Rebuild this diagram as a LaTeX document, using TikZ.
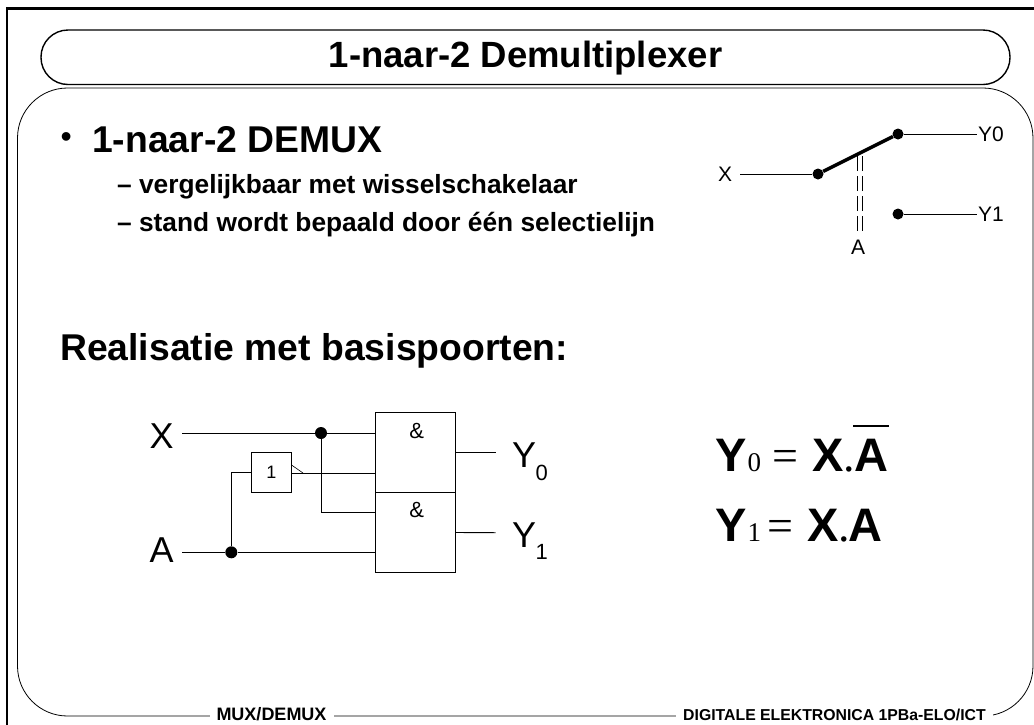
\documentclass[tikz,border=0pt]{standalone}
\usepackage{fontspec}
\setmainfont{Liberation Sans}
\newfontfamily\serifnum{Liberation Serif}
\tikzset{
  x=1pt, y=-1pt,
  wire/.style={line width=0.9pt},
  gatebox/.style={draw, line width=0.9pt, minimum width=80pt, minimum height=80pt, inner sep=0pt},
  invbox/.style={draw, line width=0.9pt, minimum width=40pt, minimum height=40pt, inner sep=0pt},
  junction/.style={circle, fill=black, inner sep=0pt, minimum size=12pt},
  pinlabel/.style={font=\fontsize{36}{36}\selectfont, inner sep=0pt},
  sublabel/.style={font=\fontsize{22}{22}\selectfont, anchor=base west, inner sep=0pt},
  swlabel/.style={font=\fontsize{21}{21}\selectfont, inner sep=1pt},
  eqbold/.style={font=\bfseries\fontsize{47}{47}\selectfont, anchor=base west, inner sep=0pt},
  eqnum/.style={font=\serifnum\fontsize{27}{27}\selectfont, anchor=base west, inner sep=0pt},
  eqsign/.style={font=\serifnum\fontsize{46}{46}\selectfont, anchor=base west, inner sep=0pt},
  textline/.style={anchor=base west, inner sep=0pt, font=\bfseries\fontsize{26.3}{26.3}\selectfont},
  headline/.style={anchor=base west, inner sep=0pt, font=\bfseries\fontsize{37.3}{37.3}\selectfont},
  footlabel/.style={font=\bfseries, fill=white, inner xsep=7pt, inner ysep=0pt}
}
\begin{document}
\begin{tikzpicture}
    \useasboundingbox (0,0) rectangle (1034,724);
    \clip (0,0) rectangle (1034,724);
    % frames
    \draw[line width=2.2pt] (7,730) -- (7,8.5) -- (1045,8.5) -- (1045,730);
    \draw[line width=1.4pt, rounded corners=27pt] (41,30) rectangle (1010,84.5);
    \draw[line width=0.8pt, rounded corners=50pt] (17.5,88) rectangle (1033,716);
    % title and text
    \node[font=\bfseries\fontsize{36.5}{36.5}\selectfont] (title) at (525.5,58) {1-naar-2 Demultiplexer};
    \node[headline, font=\fontsize{32}{32}\selectfont] (bullet) at (60.5,147) {•};
    \node[headline] (head) at (92,152.5) {1-naar-2 DEMUX};
    \node[textline] (line1) at (117,193.5) {– vergelijkbaar met wisselschakelaar};
    \node[textline] (line2) at (117,231) {– stand wordt bepaald door één selectielijn};
    \node[headline] (real) at (60,360.5) {Realisatie met basispoorten:};
    % switch
    \node[swlabel] (swX) at (725,174) {X};
    \node[swlabel, anchor=west] (swY0) at (977,134) {Y0};
    \node[swlabel, anchor=west] (swY1) at (977,214) {Y1};
    \node[swlabel] (swA) at (858,247) {A};
    \node[junction, minimum size=11pt] (swin) at (818,174) {};
    \node[junction, minimum size=11pt] (swup) at (898,134) {};
    \node[junction, minimum size=11pt] (swdown) at (898,214) {};
    \coordinate (swstart) at (740,174);
    \coordinate (swmid) at (860,156);
    \coordinate (swbot) at (860,232);
    \draw[wire] (swstart) -- (swin);
    \draw[wire] (swup) -- (swY0);
    \draw[wire] (swdown) -- (swY1);
    \draw[line width=3.4pt] (swin) -- (swup);
    \draw[line width=1pt, double, double distance=4.6pt, dash pattern=on 15pt off 5pt] (swmid) -- (swbot);
    % gates
    \node[gatebox] (gate0) at (415.2,452.7) {};
    \node[gatebox] (gate1) at (415.2,532.5) {};
    \node[font=\fontsize{22}{22}\selectfont] (amp0) at (416.7,431) {\&};
    \node[font=\fontsize{22}{22}\selectfont] (amp1) at (416.7,510) {\&};
    \node[invbox, font=\fontsize{18}{18}\selectfont] (inv) at (271.5,472.7) {1};
    \node[pinlabel] (inX) at (161.7,436) {X};
    \node[pinlabel] (inA) at (161.7,550) {A};
    \node[pinlabel, anchor=base west] (out0) at (512,467.5) {Y};
    \node[pinlabel, anchor=base west] (out1) at (512,547.5) {Y};
    \node[sublabel] (sub0) at (535.5,480) {0};
    \node[sublabel] (sub1) at (535.5,559.5) {1};
    \node[junction] (dotX) at (321,433) {};
    \node[junction] (dotA) at (231.3,552.3) {};
    \coordinate (startX) at (182,433);
    \coordinate (startA) at (182,552.3);
    \coordinate (notch) at (303,473);
    \coordinate (endY0) at (495.7,452.7);
    \coordinate (endY1) at (495.7,532.7);
    \draw[wire] (startX) -- (dotX) -- (gate0.west |- dotX);
    \draw[wire] (startA) -- (dotA) -- (gate1.west |- dotA);
    \draw[wire] (dotA) |- (inv.west);
    \draw[wire] (dotX) |- (gate1.west |- 0,512.7);
    \draw[wire] (inv.east |- notch) -- (gate0.west |- notch);
    \draw[line width=0.6pt] (inv.east |- 0,465.3) -- (notch);
    \draw[wire] (gate0.east) -- (endY0);
    \draw[wire] (gate1.east) -- (endY1);
    % equations
    \node[eqbold] (y0) at (715,471) {Y};
    \node[eqnum] (i0) at (747.5,471) {0};
    \node[eqsign] (e0) at (772,471) {=};
    \node[eqbold] (x0) at (812,471) {X};
    \node[eqsign] (d0) at (843,471) {.};
    \node[eqbold] (a0) at (854,471) {A};
    \draw[line width=1.6pt] (853,426) -- (889,426);
    \node[eqbold] (y1) at (715,541) {Y};
    \node[eqnum] (i1) at (747.5,541) {1};
    \node[eqsign] (e1) at (767,541) {=};
    \node[eqbold] (x1) at (807,541) {X};
    \node[eqsign] (d1) at (838,541) {.};
    \node[eqbold] (a1) at (848,541) {A};
    % footer
    \node[footlabel, font=\bfseries\fontsize{18}{18}\selectfont] (footl) at (271.5,714.5) {MUX/DEMUX};
    \node[footlabel, font=\bfseries\fontsize{15.8}{15.8}\selectfont] (footr) at (834.5,715) {DIGITALE ELEKTRONICA 1PBa-ELO/ICT};
\end{tikzpicture}
\end{document}
